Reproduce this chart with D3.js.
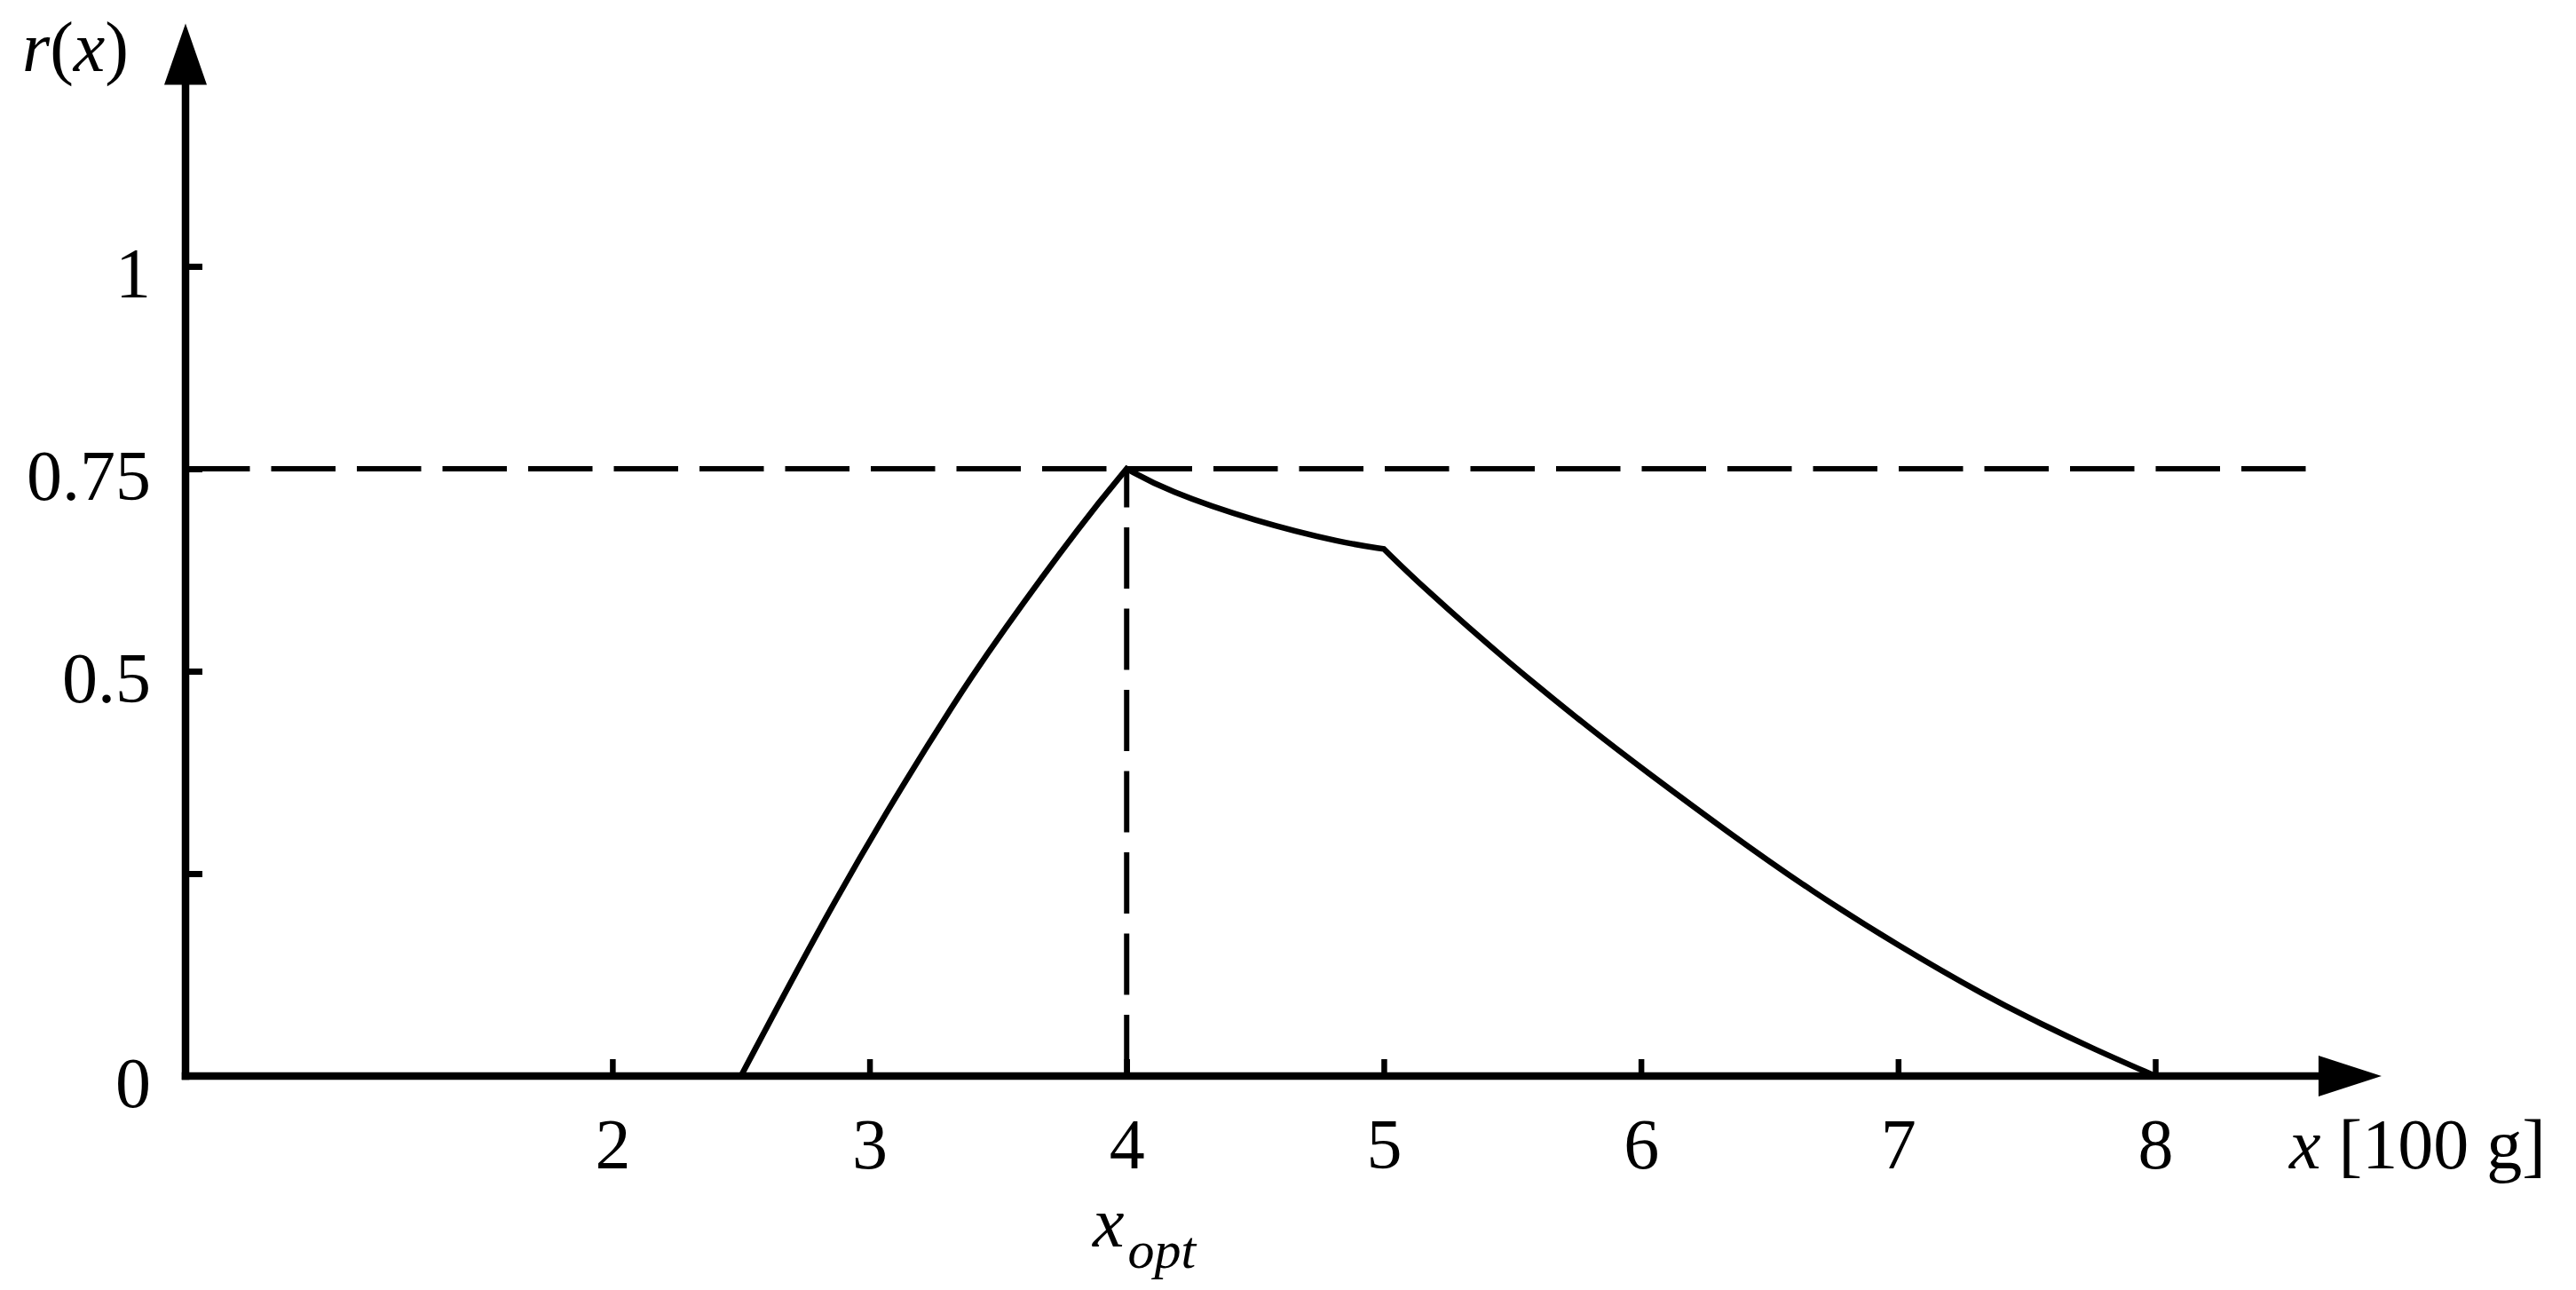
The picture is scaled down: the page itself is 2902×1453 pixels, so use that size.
<!DOCTYPE html>
<html>
<head>
<meta charset="utf-8">
<script src="https://cdn.jsdelivr.net/npm/d3@7"></script>
<style>
  html, body { margin: 0; padding: 0; background: #fff; }
  svg { display: block; }
  text { font-family: "Liberation Serif", "DejaVu Serif", serif; fill: #000; }
</style>
</head>
<body>
<svg id="chart" width="2902" height="1453"></svg>
<script>
// ---- data ----
const xTickValues = [2, 3, 4, 5, 6, 7, 8];
const xTickLabels = ["2", "3", "4", "5", "6", "7", "8"];
const yTickValues = [0, 0.25, 0.5, 0.75, 1];
const yTickLabels = ["0", "", "0.5", "0.75", "1"];

// curve r(x): rising part, slow-decline part, falling part
const riseX = [2.5, 2.8, 3.06, 3.335, 3.5, 3.835, 4.0];
const riseY = [0, 0.18, 0.324, 0.464, 0.542, 0.687, 0.75];
const midX  = [4.0, 4.155, 4.5, 4.846, 5.0];
const midY  = [0.75, 0.723, 0.685, 0.658, 0.651];
const fallX = [5.0, 5.141, 5.486, 5.826, 6.004, 6.343, 6.66, 7.005, 7.345, 7.558, 7.757, 8.0];
const fallY = [0.651, 0.607, 0.510, 0.423, 0.380, 0.300, 0.229, 0.160, 0.098, 0.064, 0.034, 0];

const xOpt = 4;
const rOpt = 0.75;
const xAxisStart = 0.34;   // value where vertical axis sits
const xAxisEnd = 8.88;     // arrow tip
const yAxisEnd = 1.30;     // arrow tip
const hDashEnd = 8.6;

// ---- scales ----
const svg = d3.select("#chart");
const x = d3.scaleLinear().domain([xAxisStart, 8]).range([209, 2428]);
const y = d3.scaleLinear().domain([0, 1]).range([1212, 300]);

const x0 = x(xAxisStart), y0 = y(0);
const FONT = 80;

// ---- axes lines ----
const axisW = 8.5;
svg.append("line")
  .attr("x1", x0).attr("y1", y0 + axisW / 2)
  .attr("x2", x0).attr("y2", y(yAxisEnd) + 66)
  .attr("stroke", "#000").attr("stroke-width", axisW);
svg.append("line")
  .attr("x1", x0 - axisW / 2).attr("y1", y0)
  .attr("x2", x(xAxisEnd) - 68).attr("y2", y0)
  .attr("stroke", "#000").attr("stroke-width", axisW);

// arrow heads
const yt = y(yAxisEnd);
svg.append("path")
  .attr("d", `M${x0},${yt} L${x0 - 24},${yt + 69} L${x0 + 24},${yt + 69} Z`)
  .attr("fill", "#000");
const xt = x(xAxisEnd);
svg.append("path")
  .attr("d", `M${xt},${y0} L${xt - 71},${y0 - 23} L${xt - 71},${y0 + 23} Z`)
  .attr("fill", "#000");

// ---- x axis ticks & labels ----
const gx = svg.append("g").attr("transform", `translate(0,${y0})`)
  .call(d3.axisBottom(x).tickValues(xTickValues)
    .tickFormat((d, i) => xTickLabels[i])
    .tickSizeInner(-19).tickSizeOuter(0).tickPadding(0));
gx.select(".domain").remove();
gx.selectAll(".tick line").attr("stroke", "#000").attr("stroke-width", 6.5);
gx.selectAll(".tick text")
  .attr("y", 104).attr("dy", 0)
  .style("font-family", "Liberation Serif").style("font-size", FONT + "px")
  .attr("fill", "#000");

// ---- y axis ticks & labels ----
const gy = svg.append("g").attr("transform", `translate(${x0},0)`)
  .call(d3.axisLeft(y).tickValues(yTickValues)
    .tickFormat((d, i) => yTickLabels[i])
    .tickSizeInner(-19).tickSizeOuter(0).tickPadding(39));
gy.select(".domain").remove();
gy.selectAll(".tick line").attr("stroke", "#000").attr("stroke-width", 7);
gy.selectAll(".tick text")
  .attr("y", 34).attr("dy", 0)
  .style("font-family", "Liberation Serif").style("font-size", FONT + "px")
  .attr("fill", "#000");

// ---- dashed guide lines ----
svg.append("line")
  .attr("x1", x0).attr("y1", y(rOpt))
  .attr("x2", x(hDashEnd)).attr("y2", y(rOpt))
  .attr("stroke", "#000").attr("stroke-width", 6)
  .attr("stroke-dasharray", "72.5 24");
svg.append("line")
  .attr("x1", x(xOpt)).attr("y1", y0)
  .attr("x2", x(xOpt)).attr("y2", y(rOpt))
  .attr("stroke", "#000").attr("stroke-width", 6)
  .attr("stroke-dasharray", "69 22.5");

// ---- curve: three smooth pieces joined into one path (sharp corners at 4 and 5) ----
const line = d3.line().x(d => x(d[0])).y(d => y(d[1])).curve(d3.curveBasis);
const pieces = [[riseX, riseY], [midX, midY], [fallX, fallY]].map(([xs, ys], k) => {
  const p = line(xs.map((v, i) => [v, ys[i]]));
  return k === 0 ? p : p.replace(/^M/, "L");
});
svg.append("path")
  .attr("d", pieces.join(""))
  .attr("fill", "none").attr("stroke", "#000")
  .attr("stroke-width", 6.5).attr("stroke-linejoin", "miter");

// ---- labels ----
const rl = svg.append("text").attr("x", 25).attr("y", 80)
  .style("font-size", FONT + "px");
rl.append("tspan").style("font-style", "italic").text("r");
rl.append("tspan").text("(");
rl.append("tspan").style("font-style", "italic").text("x");
rl.append("tspan").text(")");

const xl = svg.append("text").attr("x", 2579).attr("y", y0 + 104)
  .style("font-size", FONT + "px");
xl.append("tspan").style("font-style", "italic").text("x");
xl.append("tspan").text(" [100 g]");

const xo = svg.append("text").attr("x", 1231).attr("y", 1404)
  .style("font-size", FONT + "px");
xo.append("tspan").style("font-style", "italic").text("x");
xo.append("tspan").attr("dy", 24).attr("dx", 4)
  .style("font-style", "italic").style("font-size", "60px").text("opt");
</script>
</body>
</html>
